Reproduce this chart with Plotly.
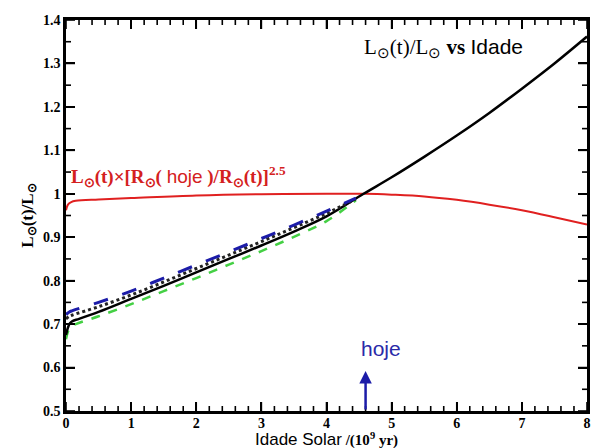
import numpy as np
import plotly.graph_objects as go

# ---- data ----
black_t = [0, 0.03, 0.06, 0.1, 0.2, 0.5, 1.0, 1.5, 2.0, 2.5, 3.0, 3.5, 4.0, 4.57, 5.0, 5.5, 6.0, 6.5, 7.0, 7.5, 8.0]
black_L = [0.675, 0.692, 0.702, 0.707, 0.712, 0.728, 0.758, 0.788, 0.819, 0.850, 0.881, 0.913, 0.948, 1.0, 1.038, 1.085, 1.134, 1.186, 1.242, 1.300, 1.362]

blue_t = [0, 0.05, 0.1, 0.5, 1.0, 1.5, 2.0, 2.5, 3.0, 3.5, 4.0, 4.45]
blue_L = [0.722, 0.728, 0.731, 0.750, 0.776, 0.806, 0.836, 0.866, 0.897, 0.928, 0.960, 0.990]

dot_t = [0, 0.05, 0.1, 0.5, 1.0, 1.5, 2.0, 2.5, 3.0, 3.5, 4.0, 4.45]
dot_L = [0.712, 0.718, 0.721, 0.740, 0.767, 0.797, 0.828, 0.859, 0.890, 0.922, 0.955, 0.988]

green_t = [0, 0.03, 0.07, 0.15, 0.5, 1.0, 1.5, 2.0, 2.5, 3.0, 3.5, 4.0, 4.45]
green_L = [0.665, 0.683, 0.694, 0.700, 0.718, 0.746, 0.776, 0.806, 0.837, 0.868, 0.901, 0.937, 0.985]

red_t = [0, 0.03, 0.08, 0.15, 0.5, 1.0, 2.0, 3.0, 4.0, 4.6, 5.0, 5.5, 6.0, 6.5, 7.0, 7.5, 8.0]
red_L = [0.962, 0.975, 0.981, 0.984, 0.987, 0.990, 0.996, 0.999, 1.0, 1.0, 0.998, 0.994, 0.986, 0.975, 0.962, 0.946, 0.929]

x_ticks = [0, 1, 2, 3, 4, 5, 6, 7, 8]
y_ticks = [0.5, 0.6, 0.7, 0.8, 0.9, 1.0, 1.1, 1.2, 1.3, 1.4]
y_tick_text = ["0.5", "0.6", "0.7", "0.8", "0.9", "1", "1.1", "1.2", "1.3", "1.4"]
x_minor_step = 0.2
y_minor_step = 0.05
hoje_age = 4.6

SERIF = "Liberation Serif"
SANS = "Liberation Sans"

fig = go.Figure()
fig.add_trace(go.Scatter(x=red_t, y=red_L, mode="lines", line=dict(color="#e02020", width=2), line_shape="spline"))
fig.add_trace(go.Scatter(x=green_t, y=green_L, mode="lines", line=dict(color="#44d044", width=2.5, dash="dash"), line_shape="spline"))
fig.add_trace(go.Scatter(x=black_t, y=black_L, mode="lines", line=dict(color="black", width=2.5), line_shape="spline"))
fig.add_trace(go.Scatter(x=dot_t, y=dot_L, mode="lines", line=dict(color="#222222", width=3, dash="dot"), line_shape="spline"))
fig.add_trace(go.Scatter(x=blue_t, y=blue_L, mode="lines", line=dict(color="#1c1ca8", width=3, dash="longdash"), line_shape="spline"))

sun = "⊙"
fig.add_annotation(
    x=0.05, y=1.04, xref="x", yref="y", xanchor="left", yanchor="middle", showarrow=False,
    text=f"<b>L<sub>{sun}</sub>(t)×[R<sub>{sun}</sub>(</b> <span style='font-family:{SANS}'>hoje</span> <b>)/R<sub>{sun}</sub>(t)]<sup>2.5</sup></b>",
    font=dict(family=SERIF, size=19, color="#d42020"),
)
fig.add_annotation(
    x=4.55, y=1.336, xref="x", yref="y", xanchor="left", yanchor="middle", showarrow=False,
    text=f"L<sub>{sun}</sub>(t)/L<sub>{sun}</sub> <b>vs</b> <span style='font-family:{SANS}'>Idade</span>",
    font=dict(family=SERIF, size=21, color="black"),
)
fig.add_annotation(
    x=hoje_age, y=0.592, ax=hoje_age, ay=0.5, xref="x", yref="y", axref="x", ayref="y",
    showarrow=True, arrowhead=2, arrowsize=1, arrowwidth=2.5, arrowcolor="#1c1ca8", text="",
)
fig.add_annotation(
    x=4.84, y=0.645, xref="x", yref="y", showarrow=False, text="hoje",
    font=dict(family=SANS, size=21, color="#2a2aa8"),
)
# x-axis title
fig.add_annotation(
    x=4.0, y=0, xref="x", yref="paper", yanchor="middle", yshift=-28, showarrow=False,
    text=f"<span style='font-family:{SANS};font-size:17px'>Idade Solar</span> <b>/(10<sup>9</sup> yr)</b>",
    font=dict(family=SERIF, size=15, color="black"),
)

# inward tick marks drawn at the tick positions
tick_line = dict(color="black", width=1.6)
x_all = np.round(np.arange(x_ticks[0], x_ticks[-1] + 1e-9, x_minor_step), 4)
y_all = np.round(np.arange(y_ticks[0], y_ticks[-1] + 1e-9, y_minor_step), 4)
for xv in x_all:
    ln = 9 if abs(xv - round(xv)) < 1e-6 else 5
    fig.add_shape(type="line", xref="x", yref="paper", ysizemode="pixel", yanchor=0,
                  x0=xv, x1=xv, y0=0, y1=ln, line=tick_line)
    fig.add_shape(type="line", xref="x", yref="paper", ysizemode="pixel", yanchor=1,
                  x0=xv, x1=xv, y0=0, y1=-ln, line=tick_line)
for yv in y_all:
    is_major = any(abs(yv - t) < 1e-6 for t in y_ticks)
    ln = 9 if is_major else 5
    fig.add_shape(type="line", xref="paper", yref="y", xsizemode="pixel", xanchor=0,
                  x0=0, x1=ln, y0=yv, y1=yv, line=tick_line)
    fig.add_shape(type="line", xref="paper", yref="y", xsizemode="pixel", xanchor=1,
                  x0=0, x1=-ln, y0=yv, y1=yv, line=tick_line)

fig.update_layout(
    width=593, height=448,
    margin=dict(l=66, r=3, t=20, b=37),
    paper_bgcolor="white", plot_bgcolor="white",
    showlegend=False,
)
fig.update_xaxes(
    range=[0, 8], tickmode="array", tickvals=x_ticks, ticks="inside", ticklen=9, tickwidth=2, tickcolor="black",
    showline=True, linecolor="black", linewidth=2.5, mirror="allticks", showgrid=False, zeroline=False,
    tickfont=dict(family=SERIF, size=14, color="black", weight="bold"), ticklabelstandoff=-3,
)
fig.update_yaxes(
    range=[0.5, 1.4], tickmode="array", tickvals=y_ticks, ticktext=y_tick_text, ticks="inside", ticklen=9, tickwidth=2,
    tickcolor="black", showline=True, linecolor="black", linewidth=2.5, mirror="allticks", showgrid=False,
    zeroline=False, tickfont=dict(family=SERIF, size=14, color="black", weight="bold"),
    title=dict(text=f"<b>L<sub>{sun}</sub>(t)/L<sub>{sun}</sub></b>", font=dict(family=SERIF, size=17, color="black"), standoff=6),
)

fig.write_html("out.html", config={"displayModeBar": False},
               post_script="document.body.style.margin='0';document.body.style.overflow='hidden';")
